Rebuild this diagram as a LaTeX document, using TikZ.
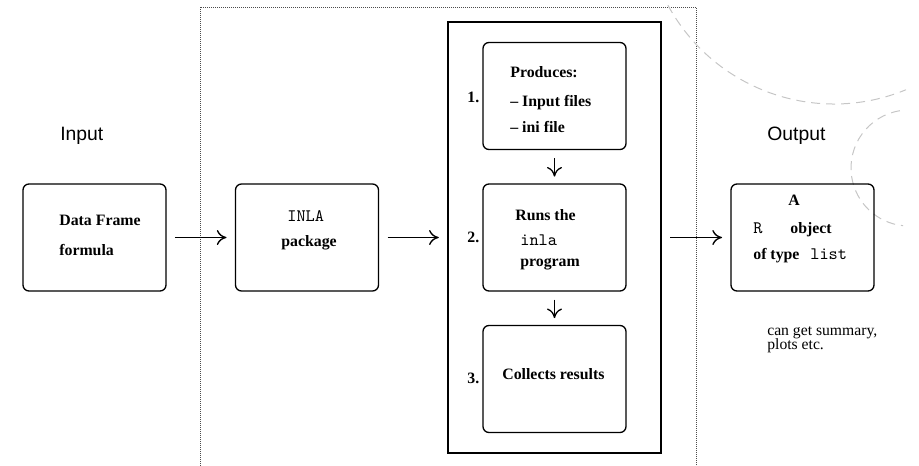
\documentclass[tikz,border=0pt]{standalone}
\usepackage{fontspec}
\setmainfont{Liberation Serif}
\setsansfont{Liberation Sans}
\usetikzlibrary{arrows.meta}
\begin{document}
\begin{tikzpicture}[
x=0.6pt,y=-0.6pt,
box/.style={draw,rounded corners=3.6pt,line width=0.8pt,minimum width=85.8pt,minimum height=64.2pt,inner sep=0pt},
txt/.style={anchor=base west,inner sep=0pt,font=\fontsize{9.5}{11}\selectfont\bfseries},
code/.style={anchor=base west,inner sep=0pt,font=\fontsize{10.5}{12}\selectfont\ttfamily},
note/.style={anchor=base west,inner sep=0pt,font=\fontsize{9.4}{11}\selectfont},
heading/.style={anchor=base west,inner sep=0pt,font=\fontsize{11.6}{14}\selectfont\sffamily},
flow/.style={-{To[length=5.8pt,width=9pt]},line width=0.8pt,shorten <=5pt,shorten >=5pt},
circ/.style={gray!45,dash pattern=on 5.4pt off 3.6pt,line width=0.6pt},
]
\useasboundingbox (0,0) rectangle (919,466);
\draw[black!70,line width=0.6pt,dash pattern=on 0.6pt off 0.6pt] (200,466) -- (200,7) -- (696,7) -- (696,466);
\draw[circ] (834,-85) ++(151.5:189) arc[start angle=151.5,end angle=67.6,radius=189];
\draw[circ] (909,168) ++(261:58) arc[start angle=261,end angle=95.8,radius=58];

\node[heading] (in) at (60,140) {Input};
\node[heading] (out) at (767,140) {Output};

\node[box] (frame) at (94.5,237.5) {};
\node[box] (pkg) at (307,237.5) {};
\node[draw,line width=1.1pt,minimum width=127.8pt,minimum height=258.6pt,inner sep=0pt] (run) at (554.5,237.5) {};
\node[box] (s1) at (554.5,96) {};
\node[box] (s2) at (554.5,237.5) {};
\node[box] (s3) at (554.5,379) {};
\node[box] (res) at (802.5,237.5) {};

\draw[flow] (frame) -- (pkg);
\draw[flow] (pkg) -- (run);
\draw[flow] (run) -- (res);
\draw[flow,shorten <=4.8pt,shorten >=4pt] (s1) -- (s2);
\draw[flow,shorten <=4.8pt,shorten >=4pt] (s2) -- (s3);

\node[txt] (df) at (59,225) {Data Frame};
\node[txt] (fm) at (59,255) {formula};
\node[code] (inla) at (287,221) {INLA};
\node[txt] (pk) at (281,246) {package};

\node[txt] (n1) at (467,102) {1.};
\node[txt] (p1) at (510,77) {Produces:};
\node[txt] (p2) at (510,106) {\textendash{} Input files};
\node[txt] (p3) at (510,132) {\textendash{} ini file};
\node[txt] (n2) at (467,242) {2.};
\node[txt] (r1) at (515,220) {Runs the};
\node[code] (r2) at (520,245) {inla};
\node[txt] (r3) at (520,266) {program};
\node[txt] (n3) at (467,383) {3.};
\node[txt] (c1) at (502,379) {Collects results};

\node[txt] (o1) at (788,205) {A};
\node[code] (o2) at (753,233) {R};
\node[txt] (o3) at (790,233) {object};
\node[txt] (o4) at (753,259) {of type};
\node[code] (o5) at (810,259) {list};
\node[note] (sm1) at (767,335) {can get summary,};
\node[note] (sm2) at (767,349) {plots etc.};
\end{tikzpicture}
\end{document}
